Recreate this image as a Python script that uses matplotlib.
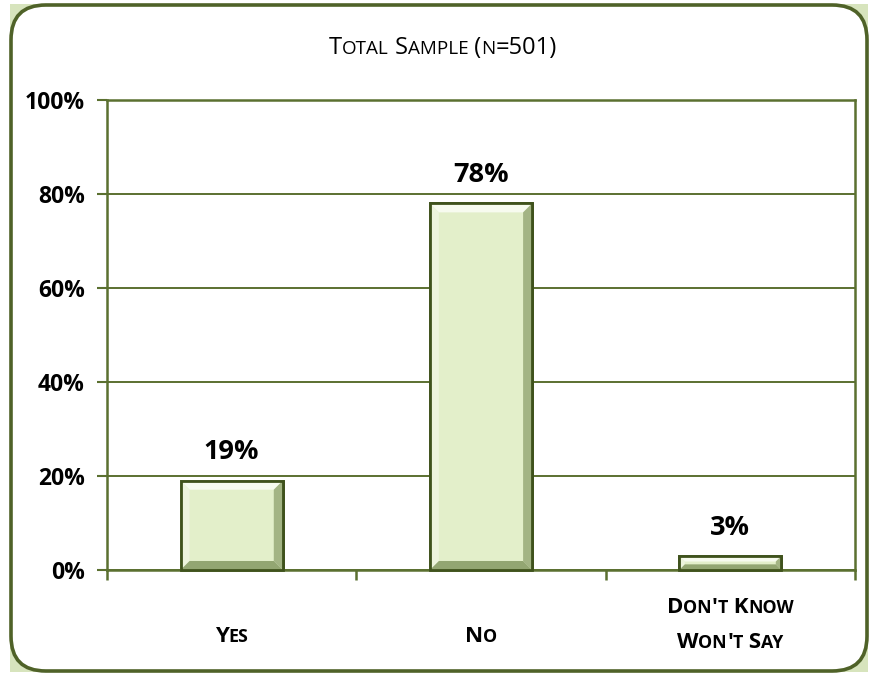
import matplotlib

matplotlib.use("Agg")
import matplotlib.pyplot as plt
from matplotlib.patches import FancyBboxPatch, Rectangle, Polygon
from matplotlib.transforms import IdentityTransform

plt.rcParams["font.family"] = ["Open Sans", "DejaVu Sans"]

# data
categories = ["Yes", "No", "Don't Know\nWon't Say"]
values = [19, 78, 3]
yticks = [0, 20, 40, 60, 80, 100]
title = "Total Sample (n=501)"

FACE = "#e3efca"
EDGE = "#3f521c"
GRID = "#5b7030"

fig = plt.figure(figsize=(8.7, 6.77), dpi=100)
W, H = 870, 677

# frame: light green corners behind a rounded white panel
fig.patches.append(Rectangle((10 / W, 5 / H), 858 / W, 668 / H, transform=fig.transFigure,
                             facecolor="#d7e4bd", edgecolor="none", zorder=-3))
fig.patches.append(FancyBboxPatch((11 / W, 6 / H), 856 / W, 666 / H,
                                  boxstyle="round,pad=0,rounding_size=0.04",
                                  mutation_aspect=W / H,
                                  transform=fig.transFigure, facecolor="white",
                                  edgecolor="#4f6228", linewidth=2.6, zorder=-2))

ax = fig.add_axes([107 / W, 107 / H, 748 / W, 470 / H])
ax.set_facecolor("none")
x = list(range(len(categories)))
bars = ax.bar(x, values, width=0.41, color=FACE, edgecolor=EDGE, linewidth=2, zorder=3)
ax.set_xlim(-0.5, 2.5)
ax.set_ylim(0, 100)
ax.set_yticks(yticks)
ax.set_yticklabels([f"{v}%" for v in yticks], fontsize=16.5, fontweight="bold")
ax.set_xticks([-0.5, 0.5, 1.5, 2.5])
ax.set_xticklabels([])
ax.tick_params(axis="x", length=7, width=1.8, color=GRID, direction="out")
ax.tick_params(axis="y", length=7, width=1.5, color=GRID, direction="out", pad=9)
ax.grid(axis="y", color=GRID, linewidth=1.4, zorder=1)
ax.set_axisbelow(True)
for s in ax.spines.values():
    s.set_color(GRID)
    s.set_linewidth(1.8)

fig.canvas.draw()
renderer = fig.canvas.get_renderer()

# bevel shading on each bar
for b in bars:
    (x0, y0), (x1, y1) = ax.transData.transform([(b.get_x(), 0), (b.get_x() + b.get_width(), b.get_height())])
    d = min(9, (y1 - y0) / 2.5)
    sides = [
        ([(x0, y1), (x1, y1), (x1 - d, y1 - d), (x0 + d, y1 - d)], "#f7fbef"),
        ([(x0, y0), (x0, y1), (x0 + d, y1 - d), (x0 + d, y0 + d)], "#edf4dd"),
        ([(x1, y0), (x1, y1), (x1 - d, y1 - d), (x1 - d, y0 + d)], "#a3b484"),
        ([(x0, y0), (x1, y0), (x1 - d, y0 + d), (x0 + d, y0 + d)], "#93a672"),
    ]
    for pts, c in sides:
        fig.patches.append(Polygon(pts, closed=True, transform=IdentityTransform(),
                                   facecolor=c, edgecolor="none", zorder=4))
    fig.patches.append(Rectangle((x0, y0), x1 - x0, y1 - y0, transform=IdentityTransform(),
                                 facecolor="none", edgecolor=EDGE, linewidth=2, zorder=5))

for xi, v in zip(x, values):
    ax.annotate(f"{v}%", (xi, v), xytext=(0, 11), textcoords="offset points",
                ha="center", va="bottom", fontsize=19.5, fontweight="bold", zorder=6)


def small_caps(text, cx, y, size, weight="normal"):
    """Draw text in small caps centred at display x=cx, baseline y (pixels)."""
    runs = []
    for ch in text:
        big = not ch.islower()
        if runs and runs[-1][1] == big:
            runs[-1][0] += ch.upper()
        else:
            runs.append([ch.upper(), big])
    items = []
    total = 0
    for s, big in runs:
        t = fig.text(0, 0, s, fontsize=size if big else size * 0.8, fontweight=weight,
                     transform=IdentityTransform(), ha="left", va="baseline")
        w = t.get_window_extent(renderer).width
        items.append((t, w))
        total += w
    px = cx - total / 2
    for t, w in items:
        t.set_position((px, y))
        px += w


small_caps(title, 443, H - 54, 17)
for xi, lab in zip(x, categories):
    cx = ax.transData.transform((xi, 0))[0]
    lines = lab.split("\n")
    if len(lines) == 1:
        small_caps(lines[0], cx, H - 642, 16, "bold")
    else:
        small_caps(lines[0], cx, H - 613, 16, "bold")
        small_caps(lines[1], cx, H - 648, 16, "bold")

fig.savefig("out.png", dpi=100)
